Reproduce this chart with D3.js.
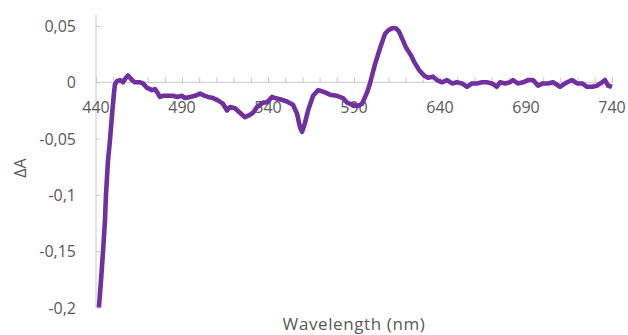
<!DOCTYPE html>
<html>
<head>
<meta charset="utf-8">
<script src="https://cdn.jsdelivr.net/npm/d3@7"></script>
<style>
  html, body { margin: 0; padding: 0; background: #fff; }
  svg { display: block; }
  text { font-family: "Open Sans", "Noto Sans", sans-serif; fill: #595959; }
</style>
</head>
<body>
<svg id="chart" width="628" height="335"></svg>
<script>
// Transient absorption difference spectrum (ΔA vs wavelength)
const wavelengths = [
  441.7, 442.9, 444.1, 445.2, 445.8, 447.0, 448.1, 449.3, 450.5, 451.0,
  452.2, 454.0, 455.7, 457.4, 458.6, 459.8, 460.9, 462.7, 465.6, 467.3,
  469.7, 472.6, 474.3, 476.0, 477.2, 479.0, 481.3, 484.8, 487.1, 490.0,
  491.7, 494.7, 497.6, 500.5, 503.4, 505.1, 508.0, 510.9, 513.8, 516.2,
  517.9, 520.8, 523.7, 526.6, 529.5, 531.3, 533.6, 537.1, 539.4, 542.3,
  544.1, 547.0, 551.0, 554.5, 556.9, 558.6, 559.8, 561.5, 563.3, 566.2,
  569.1, 571.4, 573.1, 576.0, 580.1, 583.6, 585.9, 589.4, 592.3, 594.7,
  597.6, 599.3, 602.2, 605.1, 608.0, 609.8, 612.1, 614.4, 616.2, 618.5,
  620.2, 623.1, 625.4, 627.8, 630.7, 633.0, 635.9, 638.3, 641.2, 644.1,
  647.0, 649.9, 652.8, 655.7, 658.6, 661.5, 664.4, 667.3, 670.2, 673.1,
  674.9, 677.8, 680.7, 682.4, 685.3, 688.3, 691.2, 694.1, 697.0, 699.9,
  702.8, 705.7, 709.8, 712.7, 716.7, 719.7, 722.6, 725.5, 728.4, 731.3,
  734.2, 735.9, 737.7, 740.0
];
const deltaA = [
  -0.200, -0.176, -0.150, -0.123, -0.100, -0.069, -0.052, -0.029, -0.009, -0.002,
   0.001,  0.002,  0.000,  0.004,  0.006,  0.004,  0.002,  0.000,  0.000, -0.001,
  -0.005, -0.007, -0.006, -0.010, -0.013, -0.012, -0.012, -0.012, -0.013, -0.012,
  -0.014, -0.013, -0.012, -0.010, -0.012, -0.013, -0.014, -0.016, -0.019, -0.025,
  -0.022, -0.023, -0.027, -0.031, -0.029, -0.027, -0.022, -0.018, -0.018, -0.013,
  -0.014, -0.015, -0.017, -0.020, -0.028, -0.040, -0.044, -0.036, -0.025, -0.012,
  -0.007, -0.008, -0.009, -0.011, -0.012, -0.014, -0.018, -0.020, -0.021, -0.019,
  -0.009, -0.001,  0.016,  0.030,  0.043,  0.046,  0.048,  0.048,  0.045,  0.037,
   0.031,  0.024,  0.017,  0.011,  0.006,  0.004,  0.005,  0.002,  0.000,  0.002,
  -0.001,  0.000, -0.001, -0.004, -0.001, -0.001,  0.000,  0.000, -0.001, -0.004,
   0.000, -0.001,  0.000,  0.002, -0.001,  0.000,  0.002,  0.002, -0.003, -0.001,
  -0.001,  0.000, -0.004, -0.001,  0.002, -0.001, -0.001, -0.004, -0.004, -0.003,
   0.000,  0.002, -0.003, -0.004
];
const xTickValues = [440, 490, 540, 590, 640, 690, 740];
const yTickValues = [0.05, 0, -0.05, -0.1, -0.15, -0.2];
const xMinorTicks = d3.range(440, 741, 10);

const svg = d3.select("#chart");
const axisColor = "#c8c8c8";

const x = d3.scaleLinear().domain([440, 740]).range([96, 612]);
const y = d3.scaleLinear().domain([-0.2, 0.05]).range([307.5, 26]);

// Decimal comma, plain hyphen for negatives
const fmt = v => (v === 0 ? "0" : String(+v.toFixed(2)).replace(".", ","));

// Vertical axis
const yAxis = d3.axisRight(y).tickValues(yTickValues).tickSize(4).tickFormat("");
const gy = svg.append("g").attr("transform", `translate(${x(440)},0)`).call(yAxis);
gy.select(".domain").remove();
gy.selectAll(".tick line").attr("stroke", axisColor);
gy.append("line")
  .attr("x1", 0).attr("x2", 0)
  .attr("y1", 15).attr("y2", y(-0.2))
  .attr("stroke", axisColor).attr("stroke-width", 1);

svg.append("g").selectAll("text")
  .data(yTickValues).join("text")
  .attr("x", 76).attr("y", d => y(d))
  .attr("text-anchor", "end").attr("dominant-baseline", "central")
  .attr("font-size", 16)
  .text(fmt);

// Horizontal axis along ΔA = 0, ticks every 10 nm
const xAxis = d3.axisTop(x).tickValues(xMinorTicks).tickSize(5).tickFormat("");
const gx = svg.append("g").attr("transform", `translate(0,${y(0)})`).call(xAxis);
gx.select(".domain").attr("stroke", axisColor).attr("d", `M${x(440)},0H${x(740)}`);
gx.selectAll(".tick line").attr("stroke", axisColor);

svg.append("g").selectAll("text")
  .data(xTickValues).join("text")
  .attr("x", d => x(d)).attr("y", y(0) + 25)
  .attr("text-anchor", "middle").attr("dominant-baseline", "central")
  .attr("font-size", 16)
  .text(d => d);

// Axis titles
svg.append("text")
  .attr("x", 354).attr("y", 330)
  .attr("text-anchor", "middle")
  .attr("font-size", 17)
  .attr("letter-spacing", 0.6)
  .text("Wavelength (nm)");

svg.append("text")
  .attr("transform", `translate(26,168) rotate(-90)`)
  .attr("text-anchor", "middle")
  .attr("font-size", 16)
  .text("ΔA");

// Spectrum trace
const pts = wavelengths.map((w, i) => [w, deltaA[i]]);
const line = d3.line().x(d => x(d[0])).y(d => y(d[1]));
svg.append("path")
  .datum(pts)
  .attr("d", line)
  .attr("fill", "none")
  .attr("stroke", "#7030a0")
  .attr("stroke-width", 4.6)
  .attr("stroke-linejoin", "round")
  .attr("stroke-linecap", "butt");
</script>
</body>
</html>
